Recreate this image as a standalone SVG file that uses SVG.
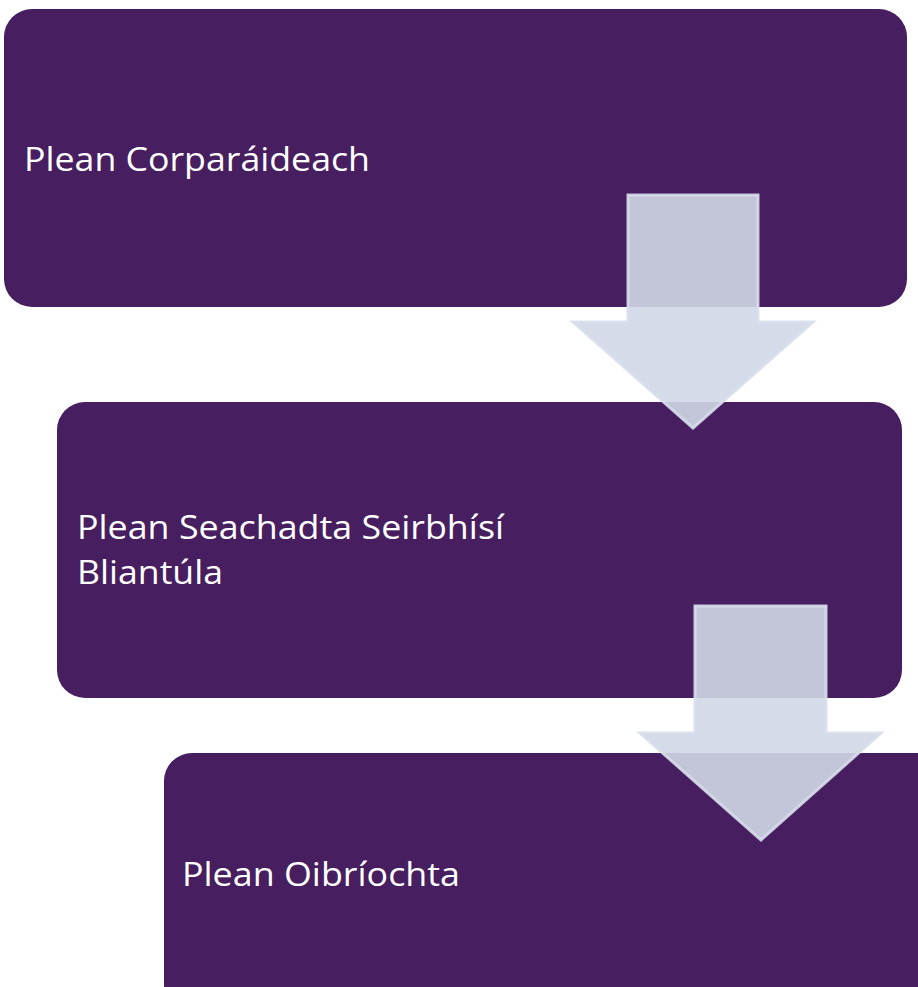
<svg xmlns="http://www.w3.org/2000/svg" width="918" height="987" viewBox="0 0 918 987">
<style>
.box{fill:#471e60}
.lbl{fill:#ffffff;font-family:"Open Sans","Liberation Sans",sans-serif;font-size:32px}
.arr{fill:rgb(208,215,231);fill-opacity:0.9;stroke:rgb(216,222,236);stroke-opacity:0.9;stroke-width:3}
</style>
<rect width="918" height="987" fill="#ffffff"/>
<g id="node1"><rect class="box" x="4" y="9" width="903" height="298" rx="28"/><text class="lbl" x="24" y="171" textLength="346" lengthAdjust="spacingAndGlyphs">Plean Corparáideach</text></g>
<g id="node2"><rect class="box" x="57" y="402" width="845" height="296" rx="28"/><text class="lbl" x="77" y="539" textLength="427" lengthAdjust="spacingAndGlyphs">Plean Seachadta Seirbhísí</text><text class="lbl" x="77" y="584" textLength="146" lengthAdjust="spacingAndGlyphs">Bliantúla</text></g>
<g id="node3"><rect class="box" x="164" y="753" width="780" height="260" rx="28"/><text class="lbl" x="182" y="886" textLength="278" lengthAdjust="spacingAndGlyphs">Plean Oibríochta</text></g>
<g id="connectors">
<path class="arr" d="M628,195 H758 V322 H813 L693,428 L573,322 H628 Z"/>
<path class="arr" d="M695,606 H826 V733 H881 L761,840 L640,733 H695 Z"/>
</g>
</svg>
